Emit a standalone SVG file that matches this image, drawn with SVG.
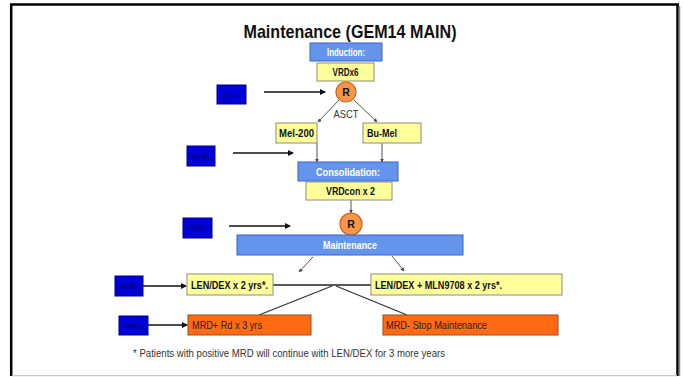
<svg xmlns="http://www.w3.org/2000/svg" width="683" height="377" viewBox="0 0 683 377">
<style>
text{font-family:"Liberation Sans",Arial,sans-serif}
.hdr{fill:#6495ed;stroke:#3a62c8;stroke-width:1}
.yel{fill:#ffff99;stroke:#8c8c7a;stroke-width:1}
.org{fill:#ff6a13;stroke:#9a4a1e;stroke-width:1}
.mrd{fill:#0000d8;stroke:#00008a;stroke-width:1}
.rc{fill:#f79646;stroke:#c8641e;stroke-width:1.2}
.wt{fill:#ffffff;font-weight:bold;font-size:10px;text-anchor:middle}
.bt{fill:#111;font-weight:bold;font-size:10.5px}
.ot{fill:#222;font-size:10.5px}
.mt{fill:#00006e;font-size:8px;text-anchor:middle}
.ln{stroke:#555;stroke-width:1;fill:none}
.ar{stroke:#111;stroke-width:1.5;fill:none}
</style>
<defs>
<marker id="ah" markerWidth="6" markerHeight="6" refX="5" refY="3" orient="auto" markerUnits="userSpaceOnUse"><path d="M0,0 L6,3 L0,6 z" fill="#111"/></marker>
<marker id="sh" markerWidth="4" markerHeight="4" refX="3.5" refY="2" orient="auto" markerUnits="userSpaceOnUse"><path d="M0,0 L4,2 L0,4 z" fill="#444"/></marker>
</defs>
<rect x="0" y="0" width="683" height="377" fill="#ffffff"/>
<g id="frame">
<line x1="10" y1="4.5" x2="679" y2="4.5" stroke="#000" stroke-width="2.5"/>
<line x1="11.2" y1="4" x2="11.2" y2="376" stroke="#000" stroke-width="2.5"/>
<line x1="677.5" y1="4" x2="677.5" y2="376" stroke="#000" stroke-width="2.5"/>
<line x1="679.5" y1="6" x2="679.5" y2="376" stroke="#888" stroke-width="1.5"/>
<line x1="12" y1="375.7" x2="677" y2="375.7" stroke="#c8c8c8" stroke-width="1.2"/>
</g>
<text id="title" x="350" y="38" text-anchor="middle" font-size="19" font-weight="bold" fill="#111" textLength="213" lengthAdjust="spacingAndGlyphs">Maintenance (GEM14 MAIN)</text>
<g id="connectors">
<line class="ar" x1="264" y1="92" x2="325" y2="92" marker-end="url(#ah)"/>
<line class="ar" x1="233" y1="153" x2="293" y2="153" marker-end="url(#ah)"/>
<line class="ar" x1="229" y1="226" x2="290" y2="226" marker-end="url(#ah)"/>
<line class="ar" x1="143" y1="286" x2="186" y2="286" marker-end="url(#ah)"/>
<line class="ar" x1="148" y1="325" x2="187" y2="325" marker-end="url(#ah)"/>
<line class="ln" x1="339" y1="100" x2="318" y2="122" marker-end="url(#sh)"/>
<line class="ln" x1="354" y1="100" x2="377" y2="122" marker-end="url(#sh)"/>
<line class="ln" x1="317" y1="143" x2="317" y2="162" marker-end="url(#sh)"/>
<line class="ln" x1="382" y1="143" x2="382" y2="162" marker-end="url(#sh)"/>
<line class="ln" x1="351" y1="200" x2="351" y2="213" marker-end="url(#sh)"/>
<line class="ln" x1="313" y1="257" x2="299" y2="272" marker-end="url(#sh)" stroke-width="1.3"/>
<line class="ln" x1="392" y1="256" x2="404" y2="271" marker-end="url(#sh)" stroke-width="1.3"/>
<line x1="273" y1="285" x2="371" y2="285" stroke="#222" stroke-width="1.5"/>
<line x1="332" y1="286" x2="259" y2="315" stroke="#333" stroke-width="1.3"/>
<line x1="336" y1="286" x2="407" y2="315" stroke="#333" stroke-width="1.3"/>
</g>
<g id="induction"><rect class="hdr" x="310" y="43" width="72" height="18"/><text class="wt" x="346" y="55.5" font-size="9" textLength="38" lengthAdjust="spacingAndGlyphs">Induction:</text></g>
<g id="vrdx6"><rect class="yel" x="317" y="63" width="57" height="18"/><text class="bt" x="345.5" y="75.5" text-anchor="middle" textLength="26" lengthAdjust="spacingAndGlyphs">VRDx6</text></g>
<g id="r1"><circle class="rc" cx="346" cy="92" r="10"/><text x="346" y="96" text-anchor="middle" font-size="10.5" font-weight="bold" fill="#111">R</text></g>
<text id="asct" x="346" y="118" text-anchor="middle" font-size="11" fill="#333" textLength="25" lengthAdjust="spacingAndGlyphs">ASCT</text>
<g id="mrd1"><rect class="mrd" x="217" y="85" width="29" height="19"/><text class="mt" x="231.5" y="97.5">MRD</text></g>
<g id="mel200"><rect class="yel" x="276" y="123" width="41" height="20"/><text class="bt" x="279" y="136.5" textLength="35" lengthAdjust="spacingAndGlyphs">Mel-200</text></g>
<g id="bumel"><rect class="yel" x="363" y="123" width="58" height="20"/><text class="bt" x="367" y="136.5" textLength="30" lengthAdjust="spacingAndGlyphs">Bu-Mel</text></g>
<g id="mrd2"><rect class="mrd" x="187" y="146" width="28" height="20"/><text class="mt" x="201" y="159">MRD</text></g>
<g id="consolidation"><rect class="hdr" x="298" y="162" width="100" height="19"/><text class="wt" x="348" y="175.5" textLength="64" lengthAdjust="spacingAndGlyphs">Consolidation:</text></g>
<g id="vrdcon"><rect class="yel" x="306" y="182" width="86" height="18"/><text class="bt" x="350.5" y="194.5" text-anchor="middle" textLength="49" lengthAdjust="spacingAndGlyphs">VRDcon x 2</text></g>
<g id="r2"><circle class="rc" cx="351" cy="224" r="11"/><text x="351" y="228" text-anchor="middle" font-size="10.5" font-weight="bold" fill="#111">R</text></g>
<g id="mrd3"><rect class="mrd" x="183" y="218" width="29" height="20"/><text class="mt" x="197.5" y="231">MRD</text></g>
<g id="maintenance"><rect class="hdr" x="237" y="235" width="226" height="20"/><text class="wt" x="350" y="248.5" font-weight="normal" textLength="54" lengthAdjust="spacingAndGlyphs">Maintenance</text></g>
<g id="mrd4"><rect class="mrd" x="115" y="276" width="28" height="20"/><text class="mt" x="129" y="289">MRD</text></g>
<g id="lendex"><rect class="yel" x="187" y="274" width="86" height="21"/><text class="bt" x="191" y="288.5" textLength="77" lengthAdjust="spacingAndGlyphs">LEN/DEX x 2 yrs*.</text></g>
<g id="lendexmln"><rect class="yel" x="371" y="274" width="191" height="21"/><text class="bt" x="375" y="288.5" textLength="127" lengthAdjust="spacingAndGlyphs">LEN/DEX + MLN9708 x 2 yrs*.</text></g>
<g id="mrd5"><rect class="mrd" x="119" y="316" width="29" height="19"/><text class="mt" x="133.5" y="328.5">MRD</text></g>
<g id="mrdpos"><rect class="org" x="188" y="315" width="123" height="20"/><text class="ot" x="192" y="328.5" textLength="70" lengthAdjust="spacingAndGlyphs">MRD+ Rd x 3 yrs</text></g>
<g id="mrdneg"><rect class="org" x="383" y="315" width="175" height="20"/><text class="ot" x="386" y="328.5" textLength="101" lengthAdjust="spacingAndGlyphs">MRD- Stop Maintenance</text></g>
<text id="footnote" x="133" y="357" font-size="10.5" fill="#333" textLength="312" lengthAdjust="spacingAndGlyphs">* Patients with positive MRD will continue with LEN/DEX for 3 more years</text>
</svg>
